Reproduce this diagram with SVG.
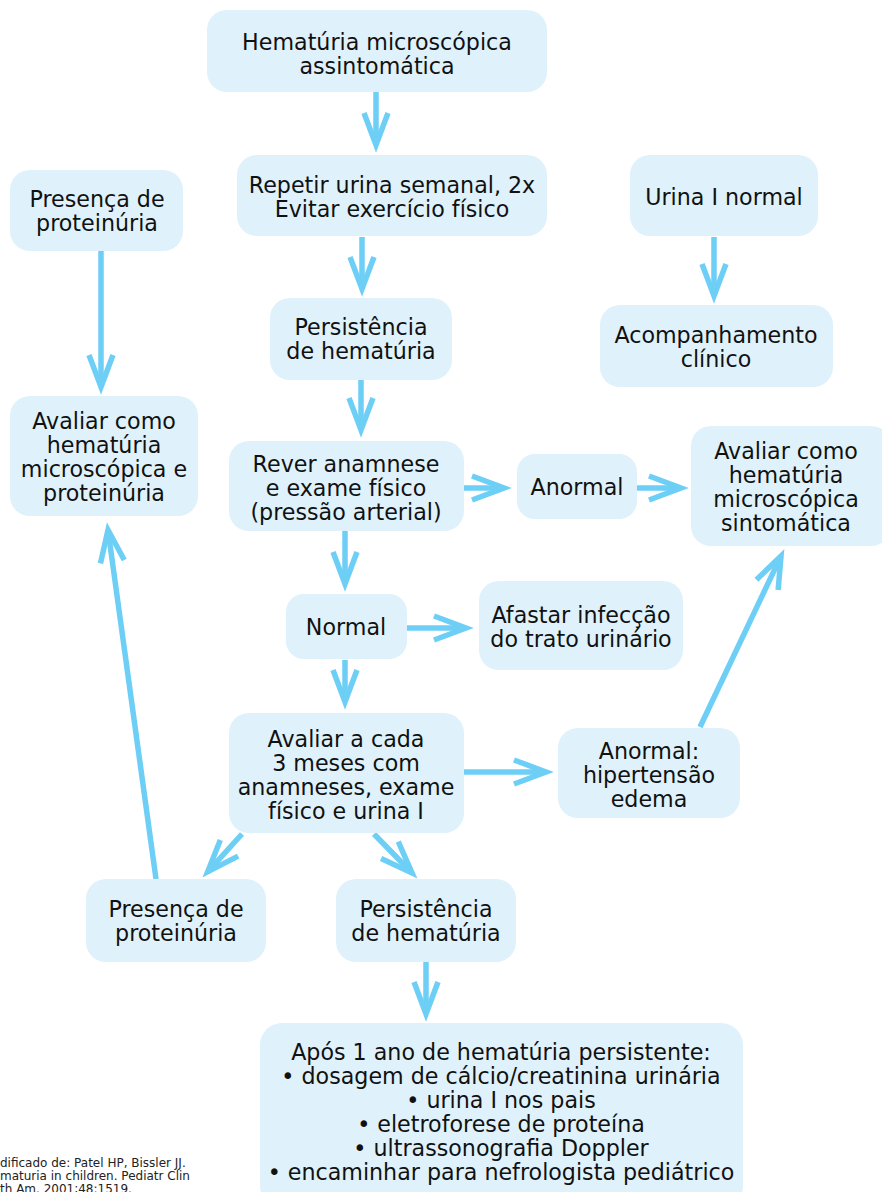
<svg xmlns="http://www.w3.org/2000/svg" width="882" height="1192" viewBox="0 0 882 1192">
<style>
.box{fill:#dff1fb;}
.t{font-family:"DejaVu Sans",sans-serif;font-size:22.2px;fill:#111;text-anchor:middle;}
.c{font-family:"DejaVu Sans",sans-serif;font-size:12px;fill:#222;}
.e{fill:none;stroke:#6dcff6;stroke-width:5.5;marker-end:url(#ah);}
</style>
<defs>
<marker id="ah" markerUnits="userSpaceOnUse" viewBox="-40 -20 50 40" refX="0" refY="0" markerWidth="50" markerHeight="40" orient="auto" overflow="visible">
<path d="M-32,-12 L0,0 L-32,12" fill="none" stroke="#6dcff6" stroke-width="5.5" stroke-linejoin="miter"/>
</marker>
</defs>
<rect width="882" height="1192" fill="#fff"/>
<g id="connectors">
<path class="e" d="M376,92 L376,145"/>
<path class="e" d="M362,237 L362,289"/>
<path class="e" d="M361,380 L361,430"/>
<path class="e" d="M464,488 L504,488"/>
<path class="e" d="M637,488 L681,488"/>
<path class="e" d="M345,531 L345,584"/>
<path class="e" d="M407,628 L466,628"/>
<path class="e" d="M345,660 L345,702"/>
<path class="e" d="M464,772 L546,772"/>
<path class="e" d="M700,727 L781,556"/>
<path class="e" d="M242,834 L207.7,871.8"/>
<path class="e" d="M374,834 L412,873"/>
<path class="e" d="M156,879 L108,530"/>
<path class="e" d="M426,962 L426,1014"/>
<path class="e" d="M101,251 L101,387"/>
<path class="e" d="M714,237 L714,296"/>
</g>
<g id="n1"><rect class="box" x="207" y="10" width="340" height="82" rx="20"/><text class="t" x="377" y="50">Hematúria microscópica</text><text class="t" x="377" y="74">assintomática</text></g>
<g id="n2"><rect class="box" x="237" y="155" width="310" height="81" rx="20"/><text class="t" x="392" y="193">Repetir urina semanal, 2x</text><text class="t" x="392" y="217">Evitar exercício físico</text></g>
<g id="n3"><rect class="box" x="270" y="298" width="182" height="82" rx="20"/><text class="t" x="361" y="335">Persistência</text><text class="t" x="361" y="359">de hematúria</text></g>
<g id="n4"><rect class="box" x="229" y="441" width="235" height="90" rx="20"/><text class="t" x="346" y="472">Rever anamnese</text><text class="t" x="346" y="496">e exame físico</text><text class="t" x="346" y="520">(pressão arterial)</text></g>
<g id="n5"><rect class="box" x="517" y="454" width="120" height="65" rx="18"/><text class="t" x="577" y="495">Anormal</text></g>
<g id="n6"><rect class="box" x="691" y="426" width="200" height="120" rx="20"/><text class="t" x="786" y="459">Avaliar como</text><text class="t" x="786" y="483">hematúria</text><text class="t" x="786" y="507">microscópica</text><text class="t" x="786" y="531">sintomática</text></g>
<g id="n7"><rect class="box" x="286" y="594" width="121" height="65" rx="18"/><text class="t" x="346" y="635">Normal</text></g>
<g id="n8"><rect class="box" x="479" y="581" width="204" height="89" rx="20"/><text class="t" x="581" y="623">Afastar infecção</text><text class="t" x="581" y="647">do trato urinário</text></g>
<g id="n9"><rect class="box" x="229" y="713" width="235" height="120" rx="20"/><text class="t" x="346" y="747">Avaliar a cada</text><text class="t" x="346" y="771">3 meses com</text><text class="t" x="346" y="795">anamneses, exame</text><text class="t" x="346" y="819">físico e urina I</text></g>
<g id="n10"><rect class="box" x="558" y="728" width="182" height="90" rx="20"/><text class="t" x="649" y="759">Anormal:</text><text class="t" x="649" y="783">hipertensão</text><text class="t" x="649" y="807">edema</text></g>
<g id="n11"><rect class="box" x="86" y="879" width="180" height="83" rx="20"/><text class="t" x="176" y="917">Presença de</text><text class="t" x="176" y="941">proteinúria</text></g>
<g id="n12"><rect class="box" x="336" y="879" width="180" height="83" rx="20"/><text class="t" x="426" y="917">Persistência</text><text class="t" x="426" y="941">de hematúria</text></g>
<g id="n13"><rect class="box" x="260" y="1023" width="483" height="185" rx="22"/><text class="t" x="501" y="1060">Após 1 ano de hematúria persistente:</text><text class="t" x="501" y="1084">• dosagem de cálcio/creatinina urinária</text><text class="t" x="501" y="1108">• urina I nos pais</text><text class="t" x="501" y="1132">• eletroforese de proteína</text><text class="t" x="501" y="1156">• ultrassonografia Doppler</text><text class="t" x="501" y="1180">• encaminhar para nefrologista pediátrico</text></g>
<g id="n14"><rect class="box" x="10" y="170" width="173" height="81" rx="20"/><text class="t" x="97" y="207">Presença de</text><text class="t" x="97" y="231">proteinúria</text></g>
<g id="n15"><rect class="box" x="10" y="396" width="188" height="120" rx="20"/><text class="t" x="104" y="429">Avaliar como</text><text class="t" x="104" y="453">hematúria</text><text class="t" x="104" y="477">microscópica e</text><text class="t" x="104" y="501">proteinúria</text></g>
<g id="n16"><rect class="box" x="630" y="155" width="188" height="81" rx="20"/><text class="t" x="724" y="205">Urina I normal</text></g>
<g id="n17"><rect class="box" x="600" y="305" width="233" height="82" rx="20"/><text class="t" x="716" y="343">Acompanhamento</text><text class="t" x="716" y="367">clínico</text></g>
<g id="citation"><text class="c" x="0" y="1167">dificado de: Patel HP, Bissler JJ.</text><text class="c" x="0" y="1180">maturia in children. Pediatr Clin</text><text class="c" x="0" y="1193">th Am. 2001;48:1519.</text></g>
</svg>
